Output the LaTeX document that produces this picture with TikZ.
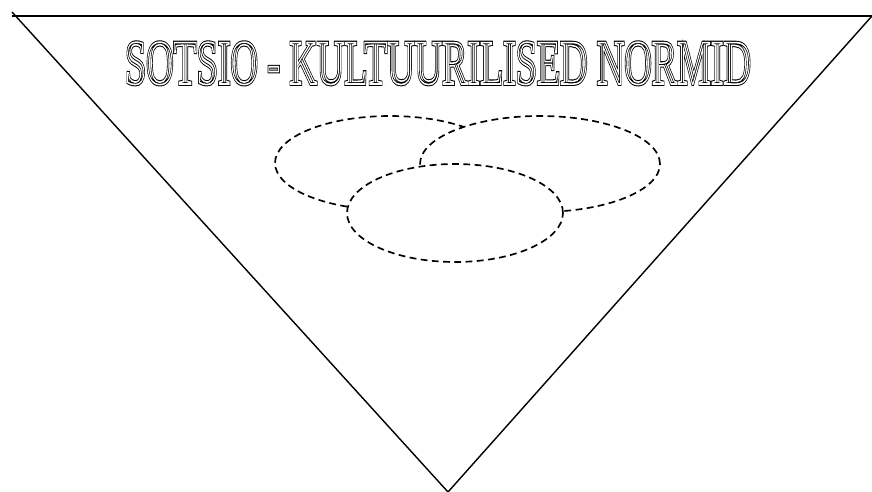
\documentclass[tikz,border=0pt]{standalone}
\usepackage{fontspec}
\setmainfont{Liberation Serif}
\usepackage{tikz}
\usetikzlibrary{shapes.geometric, positioning}

% double outlined lettering (stroked glyphs, thick black then thin white)
\newcommand{\hollowtext}[1]{%
  \rlap{\special{pdf:literal direct 1 Tr 2.1 w}#1}%
  {\color{white}\special{pdf:literal direct 0.9 w}#1}%
  \special{pdf:literal direct 0 Tr 0.4 w}}

\begin{document}
\begin{tikzpicture}[x=0.02cm, y=-0.02cm,
    norm/.style={ellipse, draw, dashed, dash pattern=on 3.9pt off 2.5pt, line width=0.95pt, fill=white, inner sep=0pt},
    title/.style={font=\fontsize{36}{36}\selectfont, xscale=0.6, inner sep=0pt}]
  \useasboundingbox (0,0) rectangle (872,492);
  % triangle
  \coordinate (tip) at (12,12);
  \coordinate (tl) at (12,16);
  \coordinate (tr) at (872,16);
  \coordinate (apex) at (448,492);
  \draw[line width=0.8pt] (tl) -- (tr);
  \draw[line width=0.8pt] (tip) -- (apex) -- (tr);

  % norms
  \node[norm, minimum width=4.6cm, minimum height=1.88cm] (n1) at (390,163) {};
  \node[norm, minimum width=4.8cm, minimum height=1.92cm] (n2) at (540,164) {};
  \node[norm, minimum width=4.32cm, minimum height=1.96cm] (n3) at (455,213) {};

  % title
  \node[title, anchor=base] (head) at (438,84) {\hollowtext{SOTSIO - KULTUURILISED NORMID}};
\end{tikzpicture}
\end{document}
